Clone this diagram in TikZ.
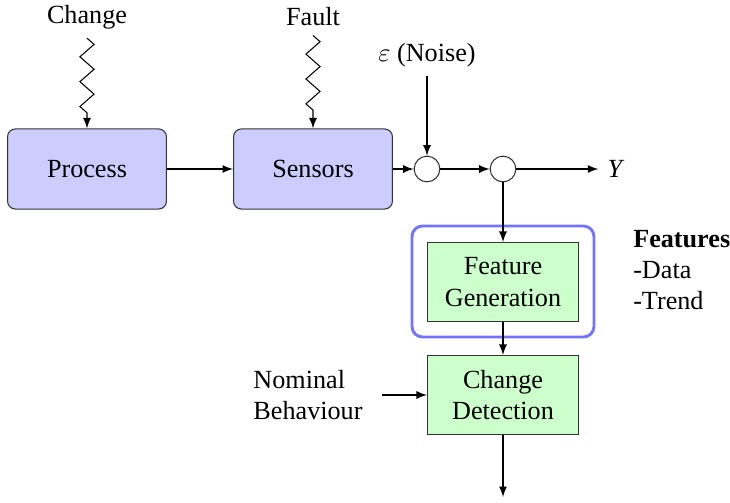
\documentclass[tikz,border=0pt]{standalone}
\usepackage{fontspec}
\setmainfont{Liberation Serif}
\usetikzlibrary{decorations.pathmorphing}

\tikzset{
    blockproc/.style={draw=black!80, fill=blue!20, rounded corners=3pt,
        minimum width=60.7pt, minimum height=30.6pt},
    blockgreen/.style={draw=black!80, fill=green!20, align=center,
        minimum width=57.7pt, minimum height=30.2pt},
    junction/.style={draw=black!80, circle, minimum size=9.8pt, inner sep=0pt},
    fgframe/.style={draw=blue!55, line width=1.1pt, rounded corners=4pt,
        minimum width=69.5pt, minimum height=42.4pt},
    zig/.style={decorate, decoration={zigzag, amplitude=2.7pt,
        segment length=9.5pt, post length=3pt}},
}

\begin{document}
\begin{tikzpicture}[x=0.382pt, y=-0.382pt, >=latex]
        \useasboundingbox (0,0) rectangle (730,502);

        % Входы
        \node (chg) at (87,17) {Change};
        \node (flt) at (313,17) {Fault};
        \node (noise) at (427,55) {$\varepsilon$ (Noise)};

        % Блоки
        \node[blockproc] (proc) at (87,169) {Process};
        \node[blockproc] (sens) at (313,169) {Sensors};
        \node[junction] (j1) at (427,169) {};
        \node[junction] (j2) at (503,169) {};
        \node (out) at (616,169) {\textit{Y}};

        \node[fgframe] (frame) at (503,281.5) {};
        \node[blockgreen] (fg) at (503,282) {Feature\\Generation};
        \node[blockgreen] (cd) at (503,395) {Change\\Detection};

        \node[align=left] (nom) at (308,395) {Nominal\\Behaviour};
        \node[align=left, anchor=west] (feat) at (624,270) {\textbf{Features}\\-Data\\-Trend};
        \coordinate (cdout) at (503,497);

        % Линии
        \draw[->, zig] (chg.south) -- (proc.north);
        \draw[->, zig] (flt.south) -- (sens.north);
        \draw[->] (proc) -- (sens);
        \draw[->] (sens) -- (j1);
        \draw[->] (noise) -- (j1);
        \draw[->] (j1) -- (j2);
        \draw[->] (j2) -- (out);
        \draw[->] (j2) -- (fg);
        \draw[->] (fg) -- (cd);
        \draw[->, shorten <=4pt] (nom) -- (cd);
        \draw[->] (cd) -- (cdout);
    \end{tikzpicture}
\end{document}
